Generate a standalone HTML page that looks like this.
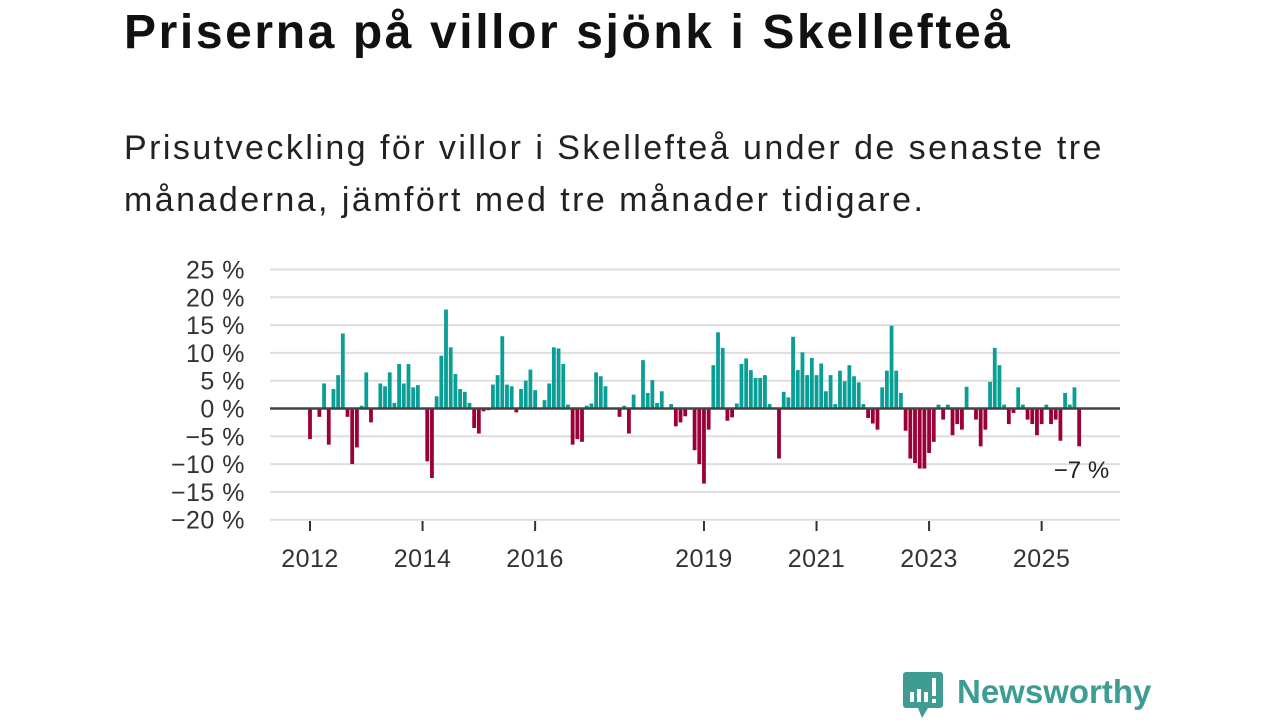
<!DOCTYPE html>
<html><head><meta charset="utf-8">
<style>
body{margin:0;width:1280px;height:720px;background:#fff;overflow:hidden;font-family:"Liberation Sans",sans-serif;position:relative}
#title{position:absolute;left:124px;top:5px;font-size:48px;letter-spacing:2.6px;font-weight:bold;color:#111;margin:0;white-space:nowrap}
#subtitle{position:absolute;left:124px;top:122px;font-size:34px;letter-spacing:2.45px;line-height:52px;color:#222;margin:0;width:1010px}
svg{position:absolute;left:0;top:0}
</style></head>
<body>
<h1 id="title">Priserna på villor sjönk i Skellefteå</h1>
<p id="subtitle">Prisutveckling för villor i Skellefteå under de senaste tre månaderna, jämfört med tre månader tidigare.</p>
<svg id="chart" width="1280" height="720"></svg>
<script>
const yTicks=[25,20,15,10,5,0,-5,-10,-15,-20];
const yearLabels=["2012","2014","2016","2019","2021","2023","2025"];
const yearValues=[2012,2014,2016,2019,2021,2023,2025];
const startYear=2012;
const values=[-5.5,null,-1.5,4.5,-6.5,3.5,6,13.5,-1.5,-10,-7,0.5,6.5,-2.5,null,4.5,4,6.5,1,8,4.5,8,3.8,4.2,null,-9.5,-12.5,2.2,9.5,17.8,11,6.2,3.5,3,1,-3.5,-4.5,-0.5,-0.3,4.3,6,13,4.3,4,-0.7,3.5,5,7,3.3,null,1.5,4.5,11,10.8,8,0.7,-6.5,-5.5,-6,0.5,0.9,6.5,5.8,4,null,null,-1.5,0.5,-4.5,2.5,null,8.7,2.8,5.1,1,3.1,null,0.8,-3.2,-2.5,-1.4,null,-7.5,-10,-13.5,-3.8,7.8,13.7,10.9,-2.2,-1.6,0.9,8,9,6.9,5.5,5.5,6,0.8,null,-9,3,2,12.9,6.9,10.1,6,9.1,6,8.1,3.1,6,0.8,6.8,4.9,7.8,5.8,4.7,0.8,-1.7,-2.7,-3.8,3.8,6.8,14.9,6.8,2.8,-4,-9,-9.8,-10.8,-10.8,-8,-6,0.7,-2,0.7,-4.8,-2.8,-3.8,3.9,null,-2,-6.8,-3.8,4.8,10.9,7.8,0.7,-2.8,-0.8,3.8,0.7,-2,-2.8,-4.8,-2.8,0.7,-2.8,-2,-5.8,2.8,0.7,3.8,-6.8];
const lastLabel="−7 %";

const NS="http://www.w3.org/2000/svg";
const svg=document.getElementById('chart');
const x0=310, monthW=4.69, yZero=408.5, pxPer=5.56, left=270, right=1120;
const xScale=i=>x0+i*monthW;
const yScale=v=>yZero-v*pxPer;
function mk(tag,attrs){const e=document.createElementNS(NS,tag);for(const k in attrs)e.setAttribute(k,attrs[k]);svg.appendChild(e);return e;}
yTicks.forEach(t=>{
  if(t!==0){const l=mk('line',{x1:left,x2:right,y1:yScale(t),y2:yScale(t),stroke:'#dedede','stroke-width':2});
  
  }
  const tx=mk('text',{x:245,y:yScale(t)+9,'text-anchor':'end','font-size':25,'letter-spacing':0.5,fill:'#333','font-family':'Liberation Sans, sans-serif'});
  tx.textContent=(t<0?'−'+(-t):t)+' %';
  
  
});
values.forEach((v,i)=>{
  if(v===null)return;
  const y=v>=0?yScale(v):yZero, h=Math.abs(v)*pxPer;
  const r=mk('rect',{x:xScale(i)-1.9,y:y,width:3.8,height:h,fill:v>=0?'#0a9f96':'#9b0039'});
  
  
});
const z=mk('line',{x1:left,x2:right,y1:yZero,y2:yZero,stroke:'#444','stroke-width':2.5});


yearValues.forEach((yr,k)=>{
  const x=xScale((yr-startYear)*12);
  const tk=mk('line',{x1:x,x2:x,y1:521,y2:531,stroke:'#333','stroke-width':2});
  
  
  const t=mk('text',{x:x,y:567,'text-anchor':'middle','font-size':25,'letter-spacing':0.5,fill:'#333','font-family':'Liberation Sans, sans-serif'});
  t.textContent=yearLabels[k];
  
  
});
const li=values.length-1;
const lb=mk('text',{x:xScale(li)+30,y:478,'text-anchor':'end','font-size':24,fill:'#222','font-family':'Liberation Sans, sans-serif'});
lb.textContent=lastLabel;


</script>
<svg width="1280" height="720" style="pointer-events:none">
  <path d="M906 672 h34 a3 3 0 0 1 3 3 v30 a3 3 0 0 1 -3 3 h-12 l-6 10 l-4 -10 h-12 a3 3 0 0 1 -3 -3 v-30 a3 3 0 0 1 3 -3z" fill="#3e9c93"/>
  <rect x="910" y="692" width="4" height="10" fill="#fff"/>
  <rect x="917" y="689" width="4" height="13" fill="#fff"/>
  <rect x="924" y="692" width="4" height="10" fill="#fff"/>
  <rect x="932" y="678" width="4" height="18" fill="#fff"/>
  <rect x="932" y="699" width="4" height="4" fill="#fff"/>
  <text x="957" y="703" font-size="33" font-weight="bold" fill="#3e9c93" font-family="Liberation Sans, sans-serif">Newsworthy</text>
</svg>
</body></html>
